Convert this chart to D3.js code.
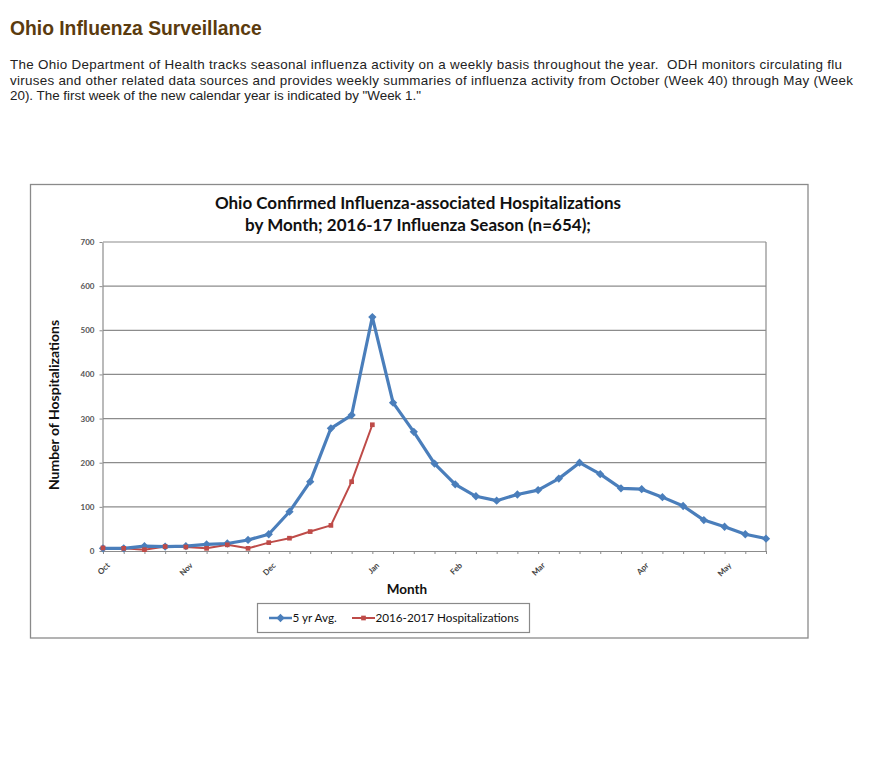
<!DOCTYPE html>
<html lang="en-us">
<head>
<meta charset="utf-8">
<title>Ohio Influenza Surveillance</title>
<script src="https://d3js.org/d3.v7.min.js"></script>
<style>
  body { margin: 0; background: white; }
</style>
</head>
<body>
<div id="d3render"></div>
<script>
// week numbers of the season, Oct (week 40) through May (week 20)
const weeks = [40, 41, 42, 43, 44, 45, 46, 47, 48, 49, 50, 51, 52,
  1, 2, 3, 4, 5, 6, 7, 8, 9, 10, 11, 12, 13, 14, 15, 16, 17, 18, 19, 20];
// month labels and the week they sit on
const monthNames = ["Oct", "Nov", "Dec", "Jan", "Feb", "Mar", "Apr", "May"];
const monthWeeks = [40, 44, 48, 1, 5, 9, 14, 18];
// 5 yr average
const avg5 = [6, 6, 11, 10, 11, 15, 17, 25, 38, 89, 157, 278, 308,
  530, 336, 270, 198, 151, 124, 114, 128, 138, 164, 200, 174, 142, 140, 122, 102, 70, 55, 38, 28];
// 2016-2017 hospitalizations, up to week 1
const season = [7, 6, 3, 10, 9, 6, 14, 6, 19, 29, 44, 58, 157, 286];
const yTicks = [0, 100, 200, 300, 400, 500, 600, 700];

const introLines = [
  "The Ohio Department of Health tracks seasonal influenza activity on a weekly basis throughout the year.  ODH monitors circulating flu",
  "viruses and other related data sources and provides weekly summaries of influenza activity from October (Week 40) through May (Week",
  "20). The first week of the new calendar year is indicated by \"Week 1.\""
];
// wrapped lines run to the edge of the text column
const introWidths = [832, 843, null];

const svgWidth = 880;
const svgHeight = 760;
const plot = { left: 103, right: 766, top: 242, bottom: 551 };
const blue = "#4a7ebb";
const red = "#be4b48";
const grid = "#8c8c8c";
const chartFont = "Lato, 'Open Sans', sans-serif";

const svg = d3.select("#d3render")
  .append("svg")
  .attr("width", svgWidth)
  .attr("height", svgHeight)
  .style("display", "block")
  .style("background-color", "white");

// page heading and intro
svg.append("text")
  .attr("x", 10).attr("y", 35)
  .attr("font-family", "'Liberation Sans', Arial, sans-serif")
  .attr("font-size", 19.3).attr("font-weight", "bold")
  .attr("fill", "#5b3b0e")
  .text("Ohio Influenza Surveillance");

svg.append("g").selectAll("text")
  .data(introLines)
  .enter()
  .append("text")
  .attr("x", 10)
  .attr("y", (d, i) => 69 + i * 15.5)
  .attr("font-family", "'Liberation Sans', Arial, sans-serif")
  .attr("font-size", 13.4)
  .attr("fill", "#222")
  .attr("textLength", (d, i) => introWidths[i])
  .attr("lengthAdjust", "spacing")
  .style("white-space", "pre")
  .text(d => d);

// chart frame
svg.append("rect")
  .attr("x", 30.5).attr("y", 184.5)
  .attr("width", 777.5).attr("height", 453.5)
  .attr("fill", "white")
  .attr("stroke", "#8a8a8a")
  .attr("stroke-width", 1.3);

const title = svg.append("text")
  .attr("x", 418).attr("y", 209)
  .attr("text-anchor", "middle")
  .attr("font-family", chartFont)
  .attr("font-size", 17).attr("font-weight", "bold")
  .attr("fill", "#111");
title.append("tspan").attr("x", 418).attr("dy", 0)
  .text("Ohio Confirmed Influenza-associated Hospitalizations");
title.append("tspan").attr("x", 418).attr("dy", 21.5)
  .text("by Month; 2016-17 Influenza Season (n=654);");

const xScale = d3.scalePoint()
  .domain(weeks)
  .range([plot.left, plot.right]);

const yScale = d3.scaleLinear()
  .domain([0, 700])
  .range([plot.bottom, plot.top]);

// gridlines
svg.append("g")
  .selectAll("line")
  .data(yTicks.slice(1))
  .enter()
  .append("line")
  .attr("x1", plot.left).attr("x2", plot.right)
  .attr("y1", d => yScale(d)).attr("y2", d => yScale(d))
  .attr("stroke", grid)
  .attr("stroke-width", 1.2);

// right edge of plot area
svg.append("line")
  .attr("x1", plot.right).attr("x2", plot.right)
  .attr("y1", plot.top).attr("y2", plot.bottom)
  .attr("stroke", grid)
  .attr("stroke-width", 1.2);

const yAxis = d3.axisLeft(yScale)
  .tickValues(yTicks)
  .tickSize(3)
  .tickPadding(5)
  .tickSizeOuter(0);

const yG = svg.append("g")
  .attr("transform", `translate(${plot.left - 0.5}, 0)`)
  .call(yAxis);
yG.select(".domain").attr("stroke", grid).attr("stroke-width", 1.2);
yG.selectAll(".tick line").attr("stroke", grid);
yG.selectAll(".tick text")
  .attr("font-family", chartFont)
  .attr("font-size", 8)
  .attr("font-weight", "bold")
  .attr("fill", "#555");

const monthOf = new Map(monthWeeks.map((w, i) => [w, monthNames[i]]));

const xAxis = d3.axisBottom(xScale)
  .tickSize(3)
  .tickPadding(4)
  .tickSizeOuter(0)
  .tickFormat(w => monthOf.get(w) || "");

const xG = svg.append("g")
  .attr("transform", `translate(0, ${plot.bottom})`)
  .call(xAxis);
xG.select(".domain").attr("stroke", grid).attr("stroke-width", 1.2);
xG.selectAll(".tick line").attr("stroke", grid);
xG.selectAll(".tick text")
  .attr("font-family", chartFont)
  .attr("font-size", 8)
  .attr("font-weight", "bold")
  .attr("fill", "#444")
  .attr("text-anchor", "end")
  .attr("dy", 0)
  .attr("transform", "translate(2, 10) rotate(-45)");

// axis titles
svg.append("text")
  .attr("transform", "translate(59, 405) rotate(-90)")
  .attr("text-anchor", "middle")
  .attr("font-family", chartFont)
  .attr("font-size", 14).attr("font-weight", "bold")
  .attr("fill", "#111")
  .text("Number of Hospitalizations");

svg.append("text")
  .attr("x", 407).attr("y", 594)
  .attr("text-anchor", "middle")
  .attr("font-family", chartFont)
  .attr("font-size", 13.5).attr("font-weight", "bold")
  .attr("fill", "#111")
  .text("Month");

// series
const line = d3.line()
  .x((d, i) => xScale(weeks[i]))
  .y(d => yScale(d));

svg.append("path")
  .datum(season)
  .attr("d", line)
  .attr("fill", "none")
  .attr("stroke", red)
  .attr("stroke-width", 2)
  .attr("stroke-linejoin", "round");

svg.append("path")
  .datum(avg5)
  .attr("d", line)
  .attr("fill", "none")
  .attr("stroke", blue)
  .attr("stroke-width", 3.2)
  .attr("stroke-linejoin", "round");

const diamond = d3.symbol().type(d3.symbolDiamond2).size(44);
const square = d3.symbol().type(d3.symbolSquare).size(22);

svg.append("g")
  .selectAll("path")
  .data(avg5)
  .enter()
  .append("path")
  .attr("d", diamond)
  .attr("transform", (d, i) => `translate(${xScale(weeks[i])}, ${yScale(d)})`)
  .attr("fill", blue);

svg.append("g")
  .selectAll("path")
  .data(season)
  .enter()
  .append("path")
  .attr("d", square)
  .attr("transform", (d, i) => `translate(${xScale(weeks[i])}, ${yScale(d)})`)
  .attr("fill", red);

// legend
const legend = svg.append("g");
legend.append("rect")
  .attr("x", 257.5).attr("y", 603.5)
  .attr("width", 272).attr("height", 29)
  .attr("fill", "white")
  .attr("stroke", "#8a8a8a")
  .attr("stroke-width", 1.2);

const legendItems = [
  { name: "5 yr Avg.", color: blue, x: 269, width: 2.5, symbol: diamond },
  { name: "2016-2017 Hospitalizations", color: red, x: 352, width: 2, symbol: square }
];

const item = legend.selectAll(".item")
  .data(legendItems)
  .enter()
  .append("g")
  .attr("transform", d => `translate(${d.x}, 618)`);
item.append("line")
  .attr("x1", 0).attr("x2", 23)
  .attr("stroke", d => d.color)
  .attr("stroke-width", d => d.width);
item.append("path")
  .attr("d", d => d.symbol())
  .attr("transform", "translate(11.5, 0)")
  .attr("fill", d => d.color);
item.append("text")
  .attr("x", 23.5).attr("y", 4)
  .attr("font-family", chartFont)
  .attr("font-size", 11.7)
  .attr("fill", "#111")
  .text(d => d.name);
</script>
</body>
</html>
